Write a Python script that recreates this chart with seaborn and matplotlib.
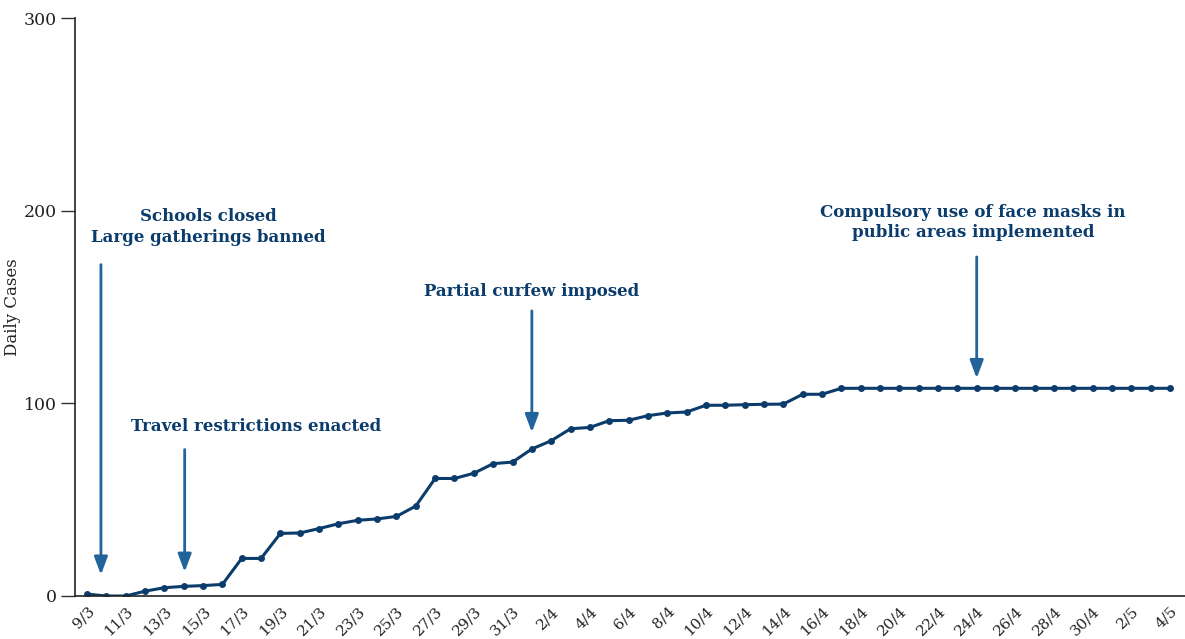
import matplotlib
matplotlib.use("Agg")
import matplotlib.pyplot as plt
import seaborn as sns
import pandas as pd
import numpy as np

dates = (["9/3", "10/3", "11/3", "12/3", "13/3", "14/3", "15/3", "16/3", "17/3", "18/3",
          "19/3", "20/3", "21/3", "22/3", "23/3", "24/3", "25/3", "26/3", "27/3", "28/3",
          "29/3", "30/3", "31/3"]
         + [f"{d}/4" for d in range(1, 31)]
         + [f"{d}/5" for d in range(1, 5)])
cases = [1, 0, 0, 2.5, 4.3, 5, 5.4, 6, 19.5, 19.5,
         32.5, 32.7, 35, 37.5, 39.3, 40, 41.3, 46.7, 61, 61,
         63.7, 68.7, 69.5,
         76.3, 80.6, 86.8, 87.5, 91, 91.2, 93.6, 95, 95.5, 99,
         99, 99.3, 99.5, 99.6, 104.7, 104.7, 107.8, 107.8, 107.8, 107.8,
         107.8, 107.8, 107.8, 107.8, 107.8, 107.8, 107.8, 107.8, 107.8, 107.8,
         107.8, 107.8, 107.8, 107.8]

events = ["Schools closed\nLarge gatherings banned",
          "Travel restrictions enacted",
          "Partial curfew imposed",
          "Compulsory use of face masks in\npublic areas implemented"]
event_dates = ["10/3", "14/3", "1/4", "24/4"]

df = pd.DataFrame({"idx": np.arange(len(dates)), "date": dates, "cases": cases})

sns.set_theme(style="ticks")
plt.rcParams['font.family'] = ['DejaVu Serif', 'DejaVu Sans']

fig = plt.figure(figsize=(11.85, 6.39), dpi=100)
ax = fig.add_axes([0.0633, 0.0673, 0.9367, 0.9045])

line_c = "#0b3c6c"
arrow_c = "#21639a"

sns.lineplot(data=df, x="idx", y="cases", ax=ax, color=line_c, linewidth=2.2,
             marker="o", markersize=5, markeredgewidth=0)

ax.set_xlim(-0.62, 56.77)
ax.set_ylim(0, 300)
ax.set_yticks([0, 100, 200, 300])
ax.set_xticks(df["idx"][::2])
ax.set_xticklabels(df["date"][::2], rotation=45, ha="right", rotation_mode="anchor",
                   fontsize=11, color="#222222")
ax.tick_params(axis="x", length=0, pad=6)
ax.tick_params(axis="y", length=10, width=1, color="#333333", labelsize=12.5,
               labelcolor="#222222", pad=3)
ax.set_xlabel("")
ax.set_ylabel("Daily Cases", fontsize=12, color="#222222")
ax.yaxis.set_label_coords(-0.049, 0.5)
for s in ["top", "right"]:
    ax.spines[s].set_visible(False)
for s in ["left", "bottom"]:
    ax.spines[s].set_color("#222222")
    ax.spines[s].set_linewidth(1.2)

pos = {d: i for i, d in enumerate(dates)}
arrow_x = [pos[event_dates[0]] - 0.28, pos[event_dates[1]] + 0.05,
           pos[event_dates[2]], pos[event_dates[3]]]
arrow_y0 = [172, 76, 148, 176]
arrow_y1 = [11, 12.5, 85, 113]
text_xy = [(6.26, 191.5), (8.74, 88.2), (23.0, 157.8), (45.8, 193.8)]

for ev, ax_x, y0, y1, (tx, ty) in zip(events, arrow_x, arrow_y0, arrow_y1, text_xy):
    ax.annotate("", xy=(ax_x, y1), xytext=(ax_x, y0),
                arrowprops=dict(arrowstyle="-|>,head_length=1.2,head_width=0.45",
                                color=arrow_c, lw=2, mutation_scale=9,
                                shrinkA=0, shrinkB=0))
    ax.text(tx, ty, ev, ha="center", va="center", fontsize=12, fontweight="bold",
            color=line_c, linespacing=1.25)

fig.savefig("out.png", dpi=100)
